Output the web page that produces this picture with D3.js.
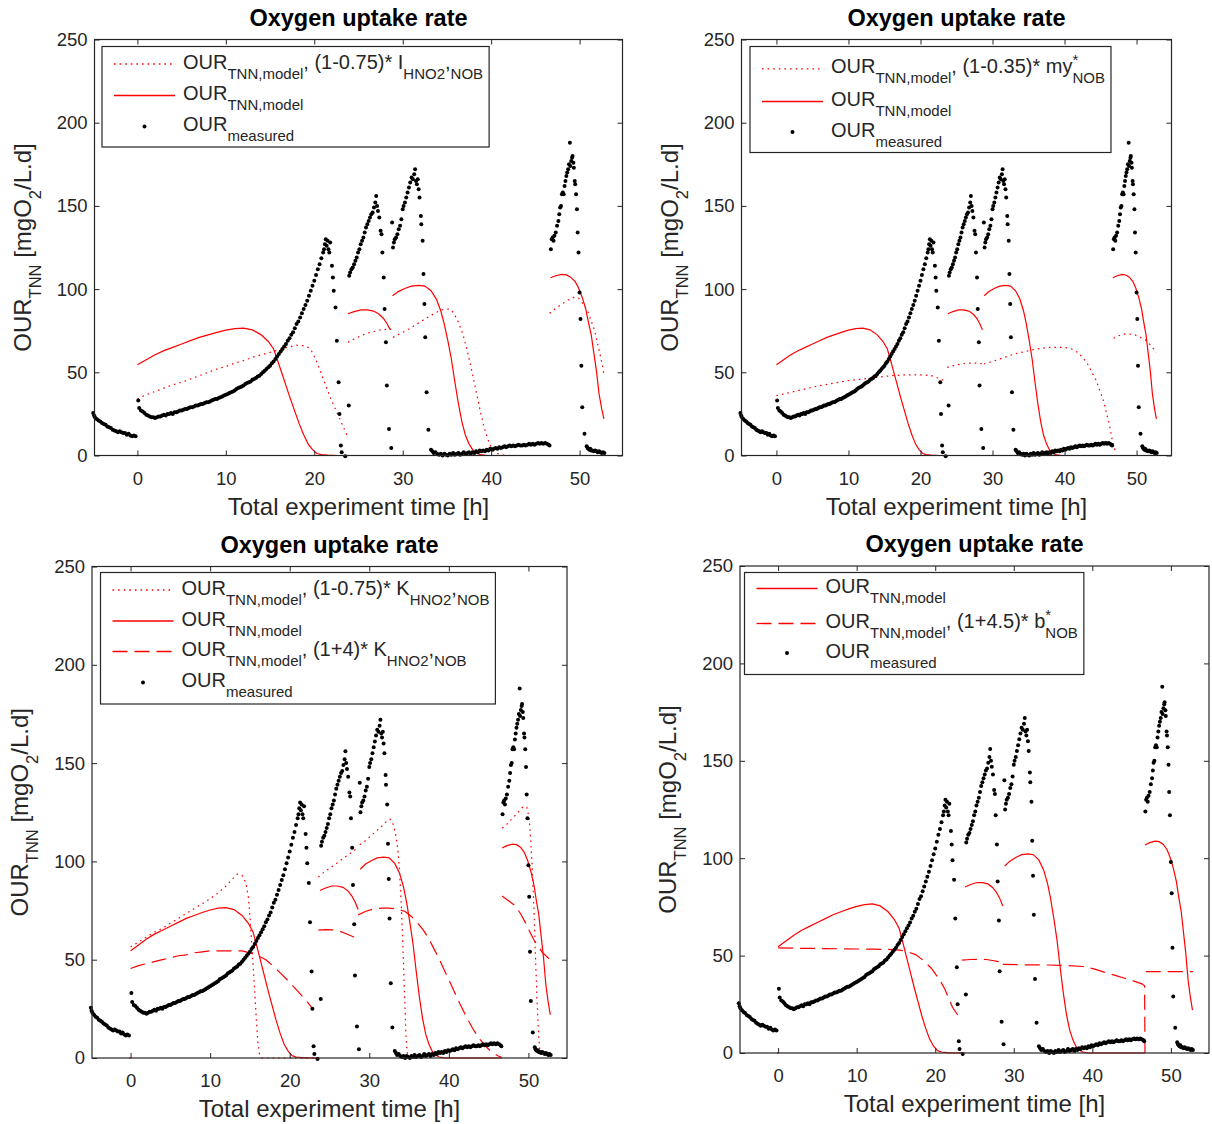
<!DOCTYPE html>
<html>
<head>
<meta charset="utf-8">
<script src="https://cdn.jsdelivr.net/npm/d3@7"></script>
<style>
body { margin: 0; background: #fff; }
svg text { font-family: "Liberation Sans", Arial, Helvetica, sans-serif; white-space: pre; }
</style>
</head>
<body>
<svg id="chart" width="1212" height="1124"></svg>
<script>
// measured OUR [h, mgO2/L.d] - same in every panel
const measured = [
	[-5,25.5],[-4.9,24],[-4.8,23],[-4.6,22],[-4.4,21],[-4.2,20.5],[-4,19.5],[-3.8,19],[-3.6,18.5],[-3.4,17.5],[-3.2,17],[-3,16.5],[-2.8,15.5],[-2.6,15],[-2.4,14.5],[-2.2,14],[-2,14.5],[-1.8,14],[-1.6,13.5],[-1.4,13.5],[-1.2,12.5],[-1,13],[-0.8,12],[-0.6,11.5],[-0.4,12],[-0.2,11.5],
	[0.1,33],[0.2,28.5],[0.4,27],[0.6,26.5],[0.8,25.5],[1,24.5],[1.2,24],[1.4,23.5],[1.6,23],[1.8,23],[2,22.5],[2.2,23],[2.4,23.5],[2.6,23.5],[2.8,24],[3,24.5],[3.2,24],[3.4,25],[3.6,25],[3.8,25.5],[4,25],[4.2,26],[4.4,26],[4.6,26.5],[4.8,27],[5,27],[5.2,27.5],[5.4,28],[5.6,28],[5.8,28.5],[6,29],[6.2,29],[6.4,29.5],[6.6,30],[6.8,30],[7,30.5],[7.2,31],[7.4,31],[7.6,31.5],[7.8,32],[8,32],[8.2,32.5],[8.4,33],[8.6,33.5],[8.8,34],[9,34],[9.2,34.5],[9.4,35],[9.6,35.5],[9.8,36],[10,36.5],[10.2,37],[10.4,37.5],[10.6,38],[10.8,38.5],[11,39],[11.2,40],[11.4,40.5],[11.6,41],[11.8,41.5],[12,42],[12.2,43],[12.4,43.5],[12.6,44],[12.8,44.5],[13,45.5],[13.2,46],[13.4,46.5],[13.6,47.5],[13.8,48],[14,49],[14.2,50],[14.4,51],[14.6,52],[14.8,53],[15,54],[15.2,55.5],[15.4,56.5],[15.6,58],[15.8,59.5],[16,61],[16.2,62.5],[16.4,64],[16.6,65.5],[16.8,67],[17,69],[17.2,70.5],[17.4,72.5],[17.6,74],[17.8,76.5],[18,79],[18.2,80.5],[18.4,83],[18.6,85.5],[18.8,88],[19,90.5],[19.2,93],[19.4,96],[19.6,99],[19.8,102],[20,105],[20.2,108.5],[20.4,112],[20.6,115],[20.8,118.5],[21,122],[21.1,124],[21.2,127],[21.3,130],[21.4,126],[21.5,129],[21.6,124],[21.7,122],[21.8,128],[22,114],[22.1,107],[22.2,99],[22.4,89],[22.55,69],[22.75,44],[22.85,25],[23,6],[23.1,2],[23.5,-0.5],[23.9,30],
	[23.95,108],[24.05,110],[24.2,112],[24.35,113],[24.5,115],[24.65,117],[24.8,119],[24.95,122],[25.1,124],[25.25,127],[25.4,129],[25.55,131],[25.7,134],[25.85,137],[26,139],[26.15,141],[26.3,143],[26.45,145],[26.6,146],[26.75,149],[26.9,152],[27,156],[27.1,150],[27.2,147],[27.35,143],[27.5,135],[27.6,133],[27.7,122],[27.85,107],[27.95,88],[28.1,68],[28.2,42],[28.45,16],[28.7,4.5],
	[28.8,140],[28.9,125],[29,128],[29.1,130],[29.25,131],[29.4,133],[29.55,136],[29.7,138],[29.85,142],[30,148],[30.1,150],[30.25,152],[30.4,155],[30.55,158],[30.7,161],[30.85,164],[31,167],[31.15,166],[31.3,169],[31.4,172],[31.5,165],[31.6,163],[31.7,166],[31.8,160],[31.9,155],[32.05,144],[32.1,139],[32.25,129],[32.35,109],[32.45,91],[32.55,71],[32.7,38],[32.9,15.5],
	[33.2,3.5],[33.35,2.5],[33.5,1.5],[33.7,2],[33.9,1],[34.1,0.5],[34.3,1],[34.5,0],[34.7,1],[34.9,0.5],[35.1,0],[35.3,1],[35.5,0.5],[35.7,1.5],[35.9,0.5],[36.1,1],[36.3,1.5],[36.5,0.5],[36.7,1],[36.9,2],[37.1,1],[37.3,1.5],[37.5,2],[37.7,1],[37.9,2],[38.1,1.5],[38.3,2.5],[38.5,2],[38.7,3],[38.9,2.5],[39.1,3],[39.3,2.5],[39.5,3.5],[39.7,3],[39.9,4],[40.1,3.5],[40.3,4],[40.5,4.5],[40.7,4],[40.9,5],[41.1,4.5],[41.3,5],[41.5,5.5],[41.7,5],[41.9,5.5],[42.1,6],[42.3,5.5],[42.5,6],[42.7,5.5],[42.9,6],[43.1,6.5],[43.3,6],[43.5,6],[43.7,6.5],[43.9,6],[44.1,6.5],[44.3,7],[44.5,6.5],[44.7,7],[44.9,6.5],[45.1,7],[45.3,7.5],[45.5,7],[45.7,7.5],[45.9,7],[46.1,7.5],[46.3,7],[46.5,6.5],[46.6,6],
	[46.75,124],[46.85,130],[46.95,131],[47.05,129],[47.15,132],[47.3,134],[47.45,138],[47.6,141],[47.7,145],[47.8,149],[47.9,150],[48,157],[48.1,158],[48.2,157],[48.3,162],[48.4,165],[48.5,168],[48.6,170],[48.7,172],[48.8,175],[48.9,188],[48.95,174],[49.05,177],[49.15,179],[49.2,180],[49.3,176],[49.35,173],[49.45,165],[49.5,163],[49.6,157],[49.7,148],[49.78,134],[49.88,122],[50,98],[50.1,82],[50.2,54],[50.3,29],[50.55,13],[50.8,5.5],[50.9,4.5],[51,4],[51.1,3.5],[51.2,4],[51.3,3],[51.45,3],[51.6,2.5],[51.75,3],[51.9,2.5],[52.05,2],[52.2,2.5],[52.35,2],[52.5,1.5],[52.65,2],[52.8,1.5]
];

// OUR_TNN,model (reference simulation), one array per batch
const modelBase = [
	[[-0.15,0],[0.1,0]],
	[[0,54.5],[1,57.5],[2,60.5],[3,63],[4,65],[5,67],[6,69],[7,71],[8,72.5],[9,74],[10,75.3],[11,76.2],[12,76.5],[13,75.5],[14,72.5],[14.8,68.5],[15.4,64],[15.8,58],[16.3,50],[16.8,42],[17.3,34],[17.8,26.5],[18.3,19],[18.8,12.5],[19.3,7],[19.8,3.5],[20.3,1.2],[20.8,0.5],[21.5,0.2],[22.5,0],[23.5,0]],
	[[23.8,85.2],[24.5,86.5],[25.3,87.5],[26,87.5],[26.7,86.8],[27.3,85],[27.8,82.5],[28.2,79.5],[28.6,75.5]],
	[[28.85,96],[29.5,98.5],[30.3,100.5],[31,101.8],[31.8,102.2],[32.5,101.8],[33.2,99],[33.8,94],[34.3,87],[34.7,79],[35.1,69],[35.5,58],[35.9,44],[36.3,31],[36.7,20],[37.1,12],[37.5,7],[37.9,3.5],[38.3,1.5],[38.8,0.5],[39.5,0],[46.7,0]],
	[[46.7,106.8],[47.3,108],[48,108.8],[48.5,108.5],[49,107.2],[49.5,104.5],[49.9,100.5],[50.3,95],[50.7,88],[51,80],[51.3,73],[51.6,62],[51.9,51],[52.2,37],[52.5,28],[52.75,22]]
];

// (1-0.75)* I_HNO2,NOB
const modelInhib = [
	[[0,34],[1,36.5],[2,38.5],[3,40.5],[4,42.5],[5,44],[6,46],[7,48],[8,50],[9,52],[10,53.5],[11,55.5],[12,57],[13,59],[14,60.5],[15,62],[16,63.5],[17,65],[18,66.3],[18.8,66],[19.3,65],[19.8,62],[20.3,56],[20.8,49],[21.3,42],[21.8,35],[22.3,29],[22.8,23],[23.3,17],[23.8,11]],
	[[23.8,68],[24.5,70],[25.3,72],[26,73.5],[26.8,74.5],[27.5,75.5],[28.2,75.8],[28.7,76]],
	[[28.9,71],[29.8,73.5],[30.7,76],[31.6,79],[32.5,82],[33.3,84.5],[34,86.5],[34.7,88],[35.3,88],[35.8,85.5],[36.3,80],[36.8,73],[37.2,65],[37.6,56],[38,46],[38.4,36],[38.8,26],[39.2,17],[39.6,10],[40,5],[40.4,2],[41,0.5],[41.5,0]],
	[[46.6,85.5],[47.3,88.5],[48,91],[48.7,93.5],[49.3,95],[49.9,94.5],[50.4,91],[50.9,87],[51.3,81],[51.7,75],[52,68],[52.3,61],[52.55,55],[52.75,49]]
];

// (1-0.35)* my*_NOB
const modelMy = [
	[[0,36],[2,38],[4,40],[6,42],[8,43.5],[10,45],[12,46],[14,47],[16,48],[18,48.5],[20,48.5],[21.5,48],[22.5,46.5],[23.3,45],[23.7,44.5]],
	[[23.7,53],[25,54.5],[26.5,55.5],[28,55.5],[28.7,55]],
	[[28.8,55],[30,56.5],[31,58],[32,59.5],[33,61],[34,62],[35,63],[36,64],[37,64.5],[38,65],[39,65],[40,65],[41,64],[41.8,62],[42.5,59],[43.2,55],[43.8,50],[44.4,45],[44.9,39],[45.4,33],[45.8,26],[46.2,19],[46.6,10],[47,3]],
	[[46.8,70.5],[47.5,72],[48.2,73],[49,73],[49.8,72.5],[50.5,71],[51.2,69.5],[51.8,67],[52.3,64.5],[52.75,62]]
];

// (1-0.75)* K_HNO2,NOB
const modelKlow = [
	[[0,56.5],[1,59],[2,61.5],[3,64],[4,66],[5,68.5],[6,71],[7,73.5],[8,76],[9,78.5],[10,81],[11,84],[12,87.5],[12.8,91],[13.4,93.5],[14,93],[14.5,89],[14.8,82],[15,72],[15.2,60],[15.4,47],[15.6,34],[15.8,20],[16,8],[16.2,2],[16.5,0],[23.5,0]],
	[[23.6,92],[24.3,94.5],[25,96.5],[25.9,99],[26.7,101.5],[27.4,103.5],[28.1,105.5],[28.6,107.5]],
	[[28.8,108.5],[29.5,110.5],[30.2,113],[30.9,115.5],[31.6,118],[32.2,120.5],[32.6,121.5],[33,119],[33.3,114],[33.6,106],[33.8,95],[34,80],[34.2,60],[34.35,42],[34.5,25],[34.6,12],[34.75,3],[35,0],[36,0]],
	[[46.7,117],[47.3,119],[47.9,121.5],[48.5,124],[49,126.5],[49.4,128],[49.8,127.5],[50.1,122],[50.3,110],[50.5,95],[50.7,75],[50.9,50],[51.1,28],[51.3,10],[51.5,2],[51.8,0]]
];

// (1+4)* K_HNO2,NOB
const modelKhigh = [
	[[0,45.5],[1,47],[2,48],[3,49],[4,50],[5,51],[6,52],[7,52.5],[8,53.5],[9,54],[10,54.5],[11,54.5],[12,54.5],[13,54.5],[14,54.5],[15,53.5],[16,52],[17,50],[18,46.5],[19,42.5],[20,38.5],[21,34],[22,29.5],[22.9,25]],
	[[23.6,65],[24.5,65.3],[25.5,65.2],[26.3,64.5],[27.1,63.2],[27.9,61.8],[28.6,60.3]],
	[[28.6,72.8],[29.5,74.5],[30.5,75.8],[31.5,76.2],[32.5,76.2],[33.5,75.8],[34.5,74.5],[35.3,72],[36,69],[36.8,65],[37.5,60.5],[38.2,55],[39,48.5],[39.8,41.5],[40.6,34.5],[41.4,27.5],[42.2,21],[43,15],[43.8,10],[44.6,6],[45.4,3],[46.2,1],[46.6,0.5]],
	[[46.7,82.4],[47.5,80],[48.3,77.6],[49,73.5],[49.6,69],[50.2,64],[50.7,60],[51.2,57],[51.7,54],[52.2,52],[52.6,50.5]]
];

// (1+4.5)* b*_NOB
const modelDecay = [
	[[0,54],[2,53.8],[4,53.7],[6,53.6],[8,53.5],[10,53.4],[12,53.3],[14,53.2],[15.5,52.8],[16.5,52],[17.5,50.5],[18.5,47.5],[19.5,43.5],[20.5,38],[21.2,33],[22.2,23.5],[23.2,17.5]],
	[[23.4,47.7],[24.5,48],[25.6,48.1],[26.5,48],[27.3,47.5],[28.3,46.7]],
	[[28.6,45.5],[31,45.3],[34,45.2],[36.5,45],[38.8,44.4],[40.2,43.2],[41.5,41.5],[42.8,40],[44,38.5],[45.2,37],[46.3,35.5],[46.65,34.5],[46.7,0]],
	[[46.8,41.8],[48,41.8],[49.5,41.8],[51,41.8],[52.8,41.8]]
];

const xTicks = [0, 10, 20, 30, 40, 50];
const yTicks = [0, 50, 100, 150, 200, 250];
const xDomain = [-4.85, 54.85];
const yDomain = [0, 250];

const labelBase = 'OUR_{TNN,model}';
const labelMeasured = 'OUR_{measured}';

const panels = [
	{ left: 94.5, right: 622.5, top: 39.5, bottom: 455.5,
		legend: { x: 102, y: 46.5, h: 100.5, rows: [22, 53.5, 84.5] },
		entries: [
			{ style: 'dotted', data: modelInhib, label: labelBase + ', (1-0.75)* I_{HNO2},_{NOB}' },
			{ style: 'solid', data: modelBase, label: labelBase },
			{ style: 'dot', label: labelMeasured }
		] },
	{ left: 741.5, right: 1171.5, top: 39.5, bottom: 455.5,
		legend: { x: 750, y: 46.5, h: 106, rows: [26.8, 59.5, 90] },
		entries: [
			{ style: 'dotted', data: modelMy, label: labelBase + ', (1-0.35)* my^{*}_{NOB}' },
			{ style: 'solid', data: modelBase, label: labelBase },
			{ style: 'dot', label: labelMeasured }
		] },
	{ left: 92, right: 567, top: 566.5, bottom: 1058,
		legend: { x: 100.5, y: 572.5, h: 131.5, rows: [22, 53, 83.5, 114.5] },
		entries: [
			{ style: 'dotted', data: modelKlow, label: labelBase + ', (1-0.75)* K_{HNO2},_{NOB}' },
			{ style: 'solid', data: modelBase, label: labelBase },
			{ style: 'dashed', data: modelKhigh, label: labelBase + ', (1+4)* K_{HNO2},_{NOB}' },
			{ style: 'dot', label: labelMeasured }
		] },
	{ left: 740, right: 1209, top: 566, bottom: 1053,
		legend: { x: 744.5, y: 572.5, h: 102, rows: [20.5, 55.5, 85] },
		entries: [
			{ style: 'solid', data: modelBase, label: labelBase },
			{ style: 'dashed', data: modelDecay, label: labelBase + ', (1+4.5)* b^{*}_{NOB}' },
			{ style: 'dot', label: labelMeasured }
		] }
];

const axisColor = '#262626';
const red = '#ff0000';
const dashes = { solid: 'none', dotted: '1.6,4', dashed: '15,7' };

const svg = d3.select('#chart');

// tiny TeX-ish renderer: _{..} subscript, ^{..} superscript
function richText(textSel, str, size, subSize, subShift, supShift) {
	const parts = str.match(/_\{[^}]*\}|\^\{[^}]*\}|[^_^]+/g);
	let offset = 0;
	let prevSup = null;
	parts.forEach((p) => {
		let kind = 'n', content = p;
		if (p.startsWith('_{')) { kind = 's'; content = p.slice(2, -1); }
		else if (p.startsWith('^{')) { kind = 'p'; content = p.slice(2, -1); }
		const target = kind === 's' ? subShift : (kind === 'p' ? -supShift : 0);
		const t = textSel.append('tspan')
			.attr('dy', target - offset)
			.attr('font-size', kind === 'n' ? size : subSize)
			.text(content);
		if (kind === 's' && prevSup) t.attr('dx', -prevSup.node().getComputedTextLength());
		prevSup = kind === 'p' ? t : null;
		offset = target;
	});
}

panels.forEach((p) => {
	const x = d3.scaleLinear().domain(xDomain).range([p.left, p.right]);
	const y = d3.scaleLinear().domain(yDomain).range([p.bottom, p.top]);
	const g = svg.append('g');
	const w = p.right - p.left, h = p.bottom - p.top;

	const line = d3.line().x((d) => x(d[0])).y((d) => y(d[1]));

	// model curves
	p.entries.filter((e) => e.data).forEach((e) => {
		g.selectAll(null)
			.data(e.data)
			.enter().append('path')
			.attr('d', line)
			.attr('fill', 'none')
			.attr('stroke', red)
			.attr('stroke-width', 1.2)
			.attr('stroke-dasharray', dashes[e.style]);
	});

	// measurements
	g.selectAll(null)
		.data(measured)
		.enter().append('circle')
		.attr('cx', (d) => x(d[0]))
		.attr('cy', (d) => y(d[1]))
		.attr('r', 2)
		.attr('fill', '#000');

	// axes, ticks pointing inwards on all four sides
	const styleAxis = (sel) => {
		sel.selectAll('.domain').remove();
		sel.selectAll('line').attr('stroke', axisColor);
		sel.selectAll('text').attr('fill', axisColor).attr('font-size', 18.5).attr('font-family', null);
	};
	g.append('g').attr('transform', `translate(0,${p.bottom})`)
		.call(d3.axisBottom(x).tickValues(xTicks).tickSize(-5).tickPadding(16))
		.call(styleAxis);
	g.append('g').attr('transform', `translate(0,${p.top})`)
		.call(d3.axisTop(x).tickValues(xTicks).tickSize(-5).tickFormat(''))
		.call(styleAxis);
	g.append('g').attr('transform', `translate(${p.left},0)`)
		.call(d3.axisLeft(y).tickValues(yTicks).tickSize(-5).tickPadding(7))
		.call(styleAxis);
	g.append('g').attr('transform', `translate(${p.right},0)`)
		.call(d3.axisRight(y).tickValues(yTicks).tickSize(-5).tickFormat(''))
		.call(styleAxis);

	g.append('rect')
		.attr('x', p.left).attr('y', p.top)
		.attr('width', w).attr('height', h)
		.attr('fill', 'none')
		.attr('stroke', axisColor)
		.attr('stroke-width', 1.2);

	// title and axis labels
	g.append('text')
		.attr('x', p.left + w / 2).attr('y', p.top - 14)
		.attr('text-anchor', 'middle')
		.attr('font-size', 23.5)
		.attr('font-weight', 'bold')
		.attr('fill', '#000')
		.text('Oxygen uptake rate');

	g.append('text')
		.attr('x', p.left + w / 2).attr('y', p.bottom + 59)
		.attr('text-anchor', 'middle')
		.attr('font-size', 24)
		.attr('fill', axisColor)
		.text('Total experiment time [h]');

	const yl = g.append('text')
		.attr('transform', `translate(${p.left - 64},${p.top + h / 2}) rotate(-90)`)
		.attr('text-anchor', 'middle')
		.attr('font-size', 24)
		.attr('fill', axisColor);
	richText(yl, 'OUR_{TNN} [mgO_{2}/L.d]', 24, 16.5, 10, 0);

	// legend
	const L = p.legend;
	const lg = g.append('g').attr('transform', `translate(${L.x},${L.y})`);
	const box = lg.append('rect')
		.attr('height', L.h)
		.attr('fill', '#fff')
		.attr('stroke', axisColor)
		.attr('stroke-width', 1.2);
	let maxEnd = 0;
	p.entries.forEach((e, i) => {
		const base = L.rows[i];
		const cy = base - 4.5;
		if (e.style === 'dot') {
			lg.append('circle').attr('cx', 42.5).attr('cy', cy).attr('r', 2).attr('fill', '#000');
		} else {
			lg.append('line')
				.attr('x1', 12).attr('x2', 73)
				.attr('y1', cy).attr('y2', cy)
				.attr('stroke', red)
				.attr('stroke-width', 1.3)
				.attr('stroke-dasharray', dashes[e.style]);
		}
		const t = lg.append('text')
			.attr('x', 81).attr('y', base)
			.attr('fill', axisColor);
		richText(t, e.label, 20, 15, 10, 8.5);
		const bb = t.node().getBBox();
		maxEnd = Math.max(maxEnd, bb.x + bb.width);
	});
	box.attr('width', maxEnd + 6);
});
</script>
</body>
</html>
